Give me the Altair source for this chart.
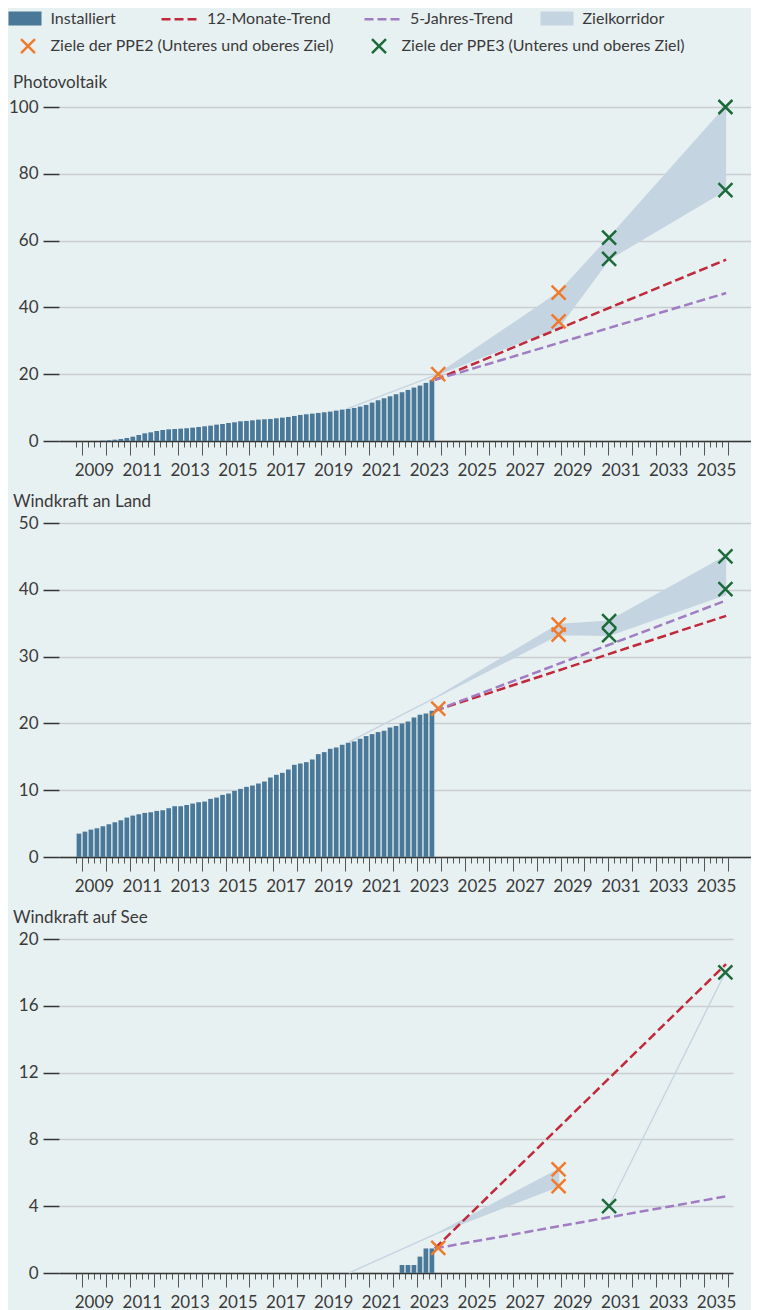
import altair as alt
import pandas as pd

# ---------------- data ----------------
QUARTER_COUNT = 60
quarter_start = [2008.75 + 0.25 * i for i in range(QUARTER_COUNT)]  # Q4 2008 .. Q3 2023

pv_installed = [0.0, 0.0, 0.0, 0.0, 0.1, 0.2, 0.4, 0.6, 0.9, 1.3,
                1.8, 2.3, 2.6, 3.0, 3.3, 3.5, 3.6, 3.7, 3.8, 4.0,
                4.2, 4.4, 4.6, 4.9, 5.1, 5.4, 5.6, 5.9, 6.0, 6.2,
                6.4, 6.5, 6.6, 6.8, 7.0, 7.2, 7.5, 7.8, 8.0, 8.2,
                8.4, 8.6, 8.8, 9.1, 9.4, 9.6, 9.9, 10.3, 10.8, 11.5,
                12.2, 12.8, 13.4, 14.0, 14.6, 15.3, 16.0, 16.6, 17.4, 18.3]
wind_installed = [3.5, 3.8, 4.1, 4.3, 4.6, 4.9, 5.2, 5.5, 5.9, 6.2,
                  6.4, 6.6, 6.7, 6.9, 7.0, 7.3, 7.6, 7.6, 7.8, 8.0,
                  8.2, 8.3, 8.7, 8.9, 9.3, 9.5, 9.9, 10.2, 10.5, 10.7,
                  11.0, 11.3, 11.9, 12.3, 12.6, 13.1, 13.8, 14.0, 14.2, 14.6,
                  15.4, 15.7, 16.2, 16.4, 16.8, 17.1, 17.3, 17.7, 18.1, 18.4,
                  18.7, 18.9, 19.4, 19.6, 20.0, 20.3, 20.9, 21.3, 21.5, 21.9]
offshore_installed = [0.0, 0.0, 0.0, 0.0, 0.0, 0.0, 0.0, 0.0, 0.0, 0.0,
                      0.0, 0.0, 0.0, 0.0, 0.0, 0.0, 0.0, 0.0, 0.0, 0.0,
                      0.0, 0.0, 0.0, 0.0, 0.0, 0.0, 0.0, 0.0, 0.0, 0.0,
                      0.0, 0.0, 0.0, 0.0, 0.0, 0.0, 0.0, 0.0, 0.0, 0.0,
                      0.0, 0.0, 0.0, 0.0, 0.0, 0.0, 0.0, 0.0, 0.0, 0.0,
                      0.0, 0.0, 0.0, 0.0, 0.48, 0.48, 0.48, 0.98, 1.47, 1.47]

# targets (PPE2 / PPE3)
target_years = [2023.89, 2028.92, 2028.92, 2031.03, 2031.03, 2035.89, 2035.89]
target_groups = ["PPE2", "PPE2", "PPE2", "PPE3", "PPE3", "PPE3", "PPE3"]
pv_targets = [20.0, 35.8, 44.4, 54.5, 60.9, 75.1, 100.0]
wind_targets = [22.2, 33.3, 34.8, 33.2, 35.3, 40.1, 45.0]
offshore_target_years = [2023.89, 2028.92, 2028.92, 2031.03, 2035.89]
offshore_target_groups = ["PPE2", "PPE2", "PPE2", "PPE3", "PPE3"]
offshore_targets = [1.5, 5.2, 6.2, 4.0, 18.0]

# target corridor
pv_corr_years = [2020.08, 2023.89, 2028.92, 2031.03, 2035.89]
pv_corr_low = [9.6, 20.0, 34.0, 54.5, 75.1]
pv_corr_high = [9.6, 20.0, 44.4, 60.9, 100.0]
pv_corr_seg = ["a", "a", "a", "a", "a"]
wind_corr_years = [2020.15, 2023.89, 2028.92, 2031.03, 2035.89]
wind_corr_low = [17.2, 24.1, 33.3, 33.2, 39.3]
wind_corr_high = [17.2, 24.1, 34.8, 35.3, 45.0]
wind_corr_seg = ["a", "a", "a", "a", "a"]
offshore_corr_years = [2020.15, 2023.89, 2028.92, 2031.03, 2035.89]
offshore_corr_low = [0.0, 2.4, 5.2, 4.0, 18.0]
offshore_corr_high = [0.0, 2.4, 6.2, 4.0, 18.0]
offshore_corr_seg = ["a", "a", "a", "b", "b"]

# trends
trend_years = [2023.75, 2035.92]
pv_trend12 = [18.3, 54.3]
pv_trend5 = [18.3, 44.3]
wind_trend12 = [21.9, 36.1]
wind_trend5 = [21.9, 38.4]
offshore_trend12 = [1.47, 18.5]
offshore_trend5 = [1.47, 4.59]

LBL_INST = "Installiert"
LBL_CORR = "Zielkorridor"
LBL_T12 = "12-Monate-Trend"
LBL_T5 = "5-Jahres-Trend"
LBL_PPE2 = "Ziele der PPE2 (Unteres und oberes Ziel)"
LBL_PPE3 = "Ziele der PPE3 (Unteres und oberes Ziel)"

# ---------------- style ----------------
BG = "#e8f1f2"
BAR = "#4a7898"
CORR = "#c5d4e1"
RED = "#c0283b"
PURPLE = "#a07cc2"
ORANGE = "#f07a2c"
GREEN = "#1b6b3a"
GRID = "#c7cdd0"
TXT = "#3a3a3a"
FONT = "Lato"
PANEL_H = 334

XPATH = "M-1,-1L1,1M-1,1L1,-1"
RECT = "M-2.36,-1L2.36,-1L2.36,1L-2.36,1Z"
DASH = "M-2.5,0L2.5,0"

quarter_ticks = [2008.75 + 0.25 * k for k in range(110)]
year_ticks = [2009 + k for k in range(28)]

fill_scale = alt.Scale(domain=[LBL_INST, LBL_CORR], range=[BAR, CORR])
stroke_scale = alt.Scale(domain=[LBL_T12, LBL_T5], range=[RED, PURPLE])
color_scale = alt.Scale(domain=[LBL_PPE2, LBL_PPE3], range=[ORANGE, GREEN])

LEG_COMMON = dict(orient="none", direction="horizontal", title=None, labelFontSize=16,
                  labelFont=FONT, labelColor=TXT, labelLimit=0, symbolSize=196)
leg_fill = alt.Legend(legendX=-42, legendY=-96.4, symbolType=RECT, symbolStrokeWidth=0,
                      labelOffset=17.5, columnPadding=424, **LEG_COMMON)
leg_trend = alt.Legend(legendX=111.5, legendY=-96.4, symbolType=DASH, symbolStrokeWidth=2.5,
                       symbolDash=[9, 4], labelOffset=19.5, columnPadding=28, **LEG_COMMON)
leg_target = alt.Legend(legendX=-39.5, legendY=-69.7, symbolType=XPATH, symbolStrokeWidth=2.5,
                        labelOffset=14, columnPadding=32, **LEG_COMMON)

name_map = {"PPE2": LBL_PPE2, "PPE3": LBL_PPE3}


def panel(title, installed, corr_years, corr_low, corr_high, corr_seg,
          t_years, t_groups, t_vals, tr12, tr5, ymax, ystep, xmax, width):
    xscale = alt.Scale(domain=[2008.25, xmax], nice=False, zero=False)
    yscale = alt.Scale(domain=[0, ymax], nice=False, zero=True)
    xaxis = alt.Axis(orient="bottom", values=quarter_ticks,
                     labelExpr="datum.value % 2 == 1.5 ? floor(datum.value) + '' : ''",
                     labelOverlap=False, labelFlush=False, labelBound=False,
                     tickSize=6, tickColor="#555555", tickWidth=1,
                     domainColor="#333333", domainWidth=1.5,
                     grid=False, title=None, labelFontSize=17, labelFont=FONT, labelColor=TXT,
                     labelPadding=15)
    xaxis_years = alt.Axis(orient="bottom", values=year_ticks, labels=False, domain=False,
                           tickSize=14, tickColor="#555555", tickWidth=1, grid=False, title=None)
    yaxis = alt.Axis(values=list(range(0, ymax + 1, ystep)), tickSize=16, tickColor="#333333",
                     tickWidth=1.5, domain=False, grid=True, gridColor=GRID, gridWidth=1.5,
                     title=None, labelFontSize=17, labelFont=FONT, labelColor=TXT, labelPadding=5)

    df_bar = pd.DataFrame({"mid": [q + 0.125 for q in quarter_start], "value": installed,
                           "series": LBL_INST})
    df_corr = pd.DataFrame({"year": corr_years, "low": corr_low, "high": corr_high,
                            "seg": corr_seg, "series": LBL_CORR})
    df_trend = pd.DataFrame({"year": trend_years * 2, "value": tr12 + tr5,
                             "series": [LBL_T12] * 2 + [LBL_T5] * 2})
    df_tgt = pd.DataFrame({"year": t_years, "value": t_vals,
                           "group": [name_map[g] for g in t_groups]})

    corr = alt.Chart(df_corr).mark_area(stroke=CORR, strokeWidth=1.4, opacity=1).encode(
        x=alt.X("year:Q", scale=xscale, axis=xaxis),
        y=alt.Y("low:Q", scale=yscale, axis=yaxis),
        y2="high:Q",
        detail="seg:N",
        fill=alt.Fill("series:N", scale=fill_scale, legend=leg_fill),
    )
    bars = alt.Chart(df_bar).mark_bar(width=4.7, opacity=1).encode(
        x=alt.X("mid:Q", scale=xscale, axis=xaxis),
        y=alt.Y("value:Q", scale=yscale, axis=yaxis, stack=None),
        fill=alt.Fill("series:N", scale=fill_scale, legend=leg_fill),
    )
    trends = alt.Chart(df_trend).mark_line(strokeDash=[9, 4], strokeWidth=2.5, opacity=1).encode(
        x=alt.X("year:Q", scale=xscale, axis=xaxis),
        y=alt.Y("value:Q", scale=yscale, axis=yaxis),
        stroke=alt.Stroke("series:N", scale=stroke_scale, legend=leg_trend),
    )
    targets = alt.Chart(df_tgt).mark_point(shape=XPATH, size=196, filled=False, strokeWidth=2.5,
                                           opacity=1).encode(
        x=alt.X("year:Q", scale=xscale, axis=xaxis),
        y=alt.Y("value:Q", scale=yscale, axis=yaxis),
        color=alt.Color("group:N", scale=color_scale, legend=leg_target),
    )
    ticks = alt.Chart(df_bar).mark_point(opacity=0).encode(
        x=alt.X("mid:Q", scale=xscale, axis=xaxis_years),
        y=alt.Y("value:Q", scale=yscale, axis=yaxis),
    )
    inner = alt.layer(corr, bars, trends, targets)
    return alt.layer(inner, ticks).resolve_axis(x="independent").properties(
        width=width, height=PANEL_H,
        title=alt.TitleParams(title, anchor="start", frame="group", dx=-46, offset=-10,
                              fontSize=17, font=FONT, fontWeight="normal", color=TXT,
                              baseline="alphabetic"),
    )


p1 = panel("Photovoltaik", pv_installed, pv_corr_years, pv_corr_low, pv_corr_high, pv_corr_seg,
           target_years, target_groups, pv_targets, pv_trend12, pv_trend5, 100, 20, 2036.75, 692)
p2 = panel("Windkraft an Land", wind_installed, wind_corr_years, wind_corr_low, wind_corr_high,
           wind_corr_seg, target_years, target_groups, wind_targets, wind_trend12, wind_trend5,
           50, 10, 2036.75, 692)
p3 = panel("Windkraft auf See", offshore_installed, offshore_corr_years, offshore_corr_low,
           offshore_corr_high, offshore_corr_seg, offshore_target_years, offshore_target_groups,
           offshore_targets, offshore_trend12, offshore_trend5, 20, 4, 2036.0, 674)

chart = alt.vconcat(p1, p2, p3, spacing=15).configure(
    background=BG, padding={"left": 0, "top": 2, "right": 0, "bottom": 0}, font=FONT
).configure_view(strokeWidth=0)

chart.save("out.html", embed_options={"renderer": "svg", "actions": False})
